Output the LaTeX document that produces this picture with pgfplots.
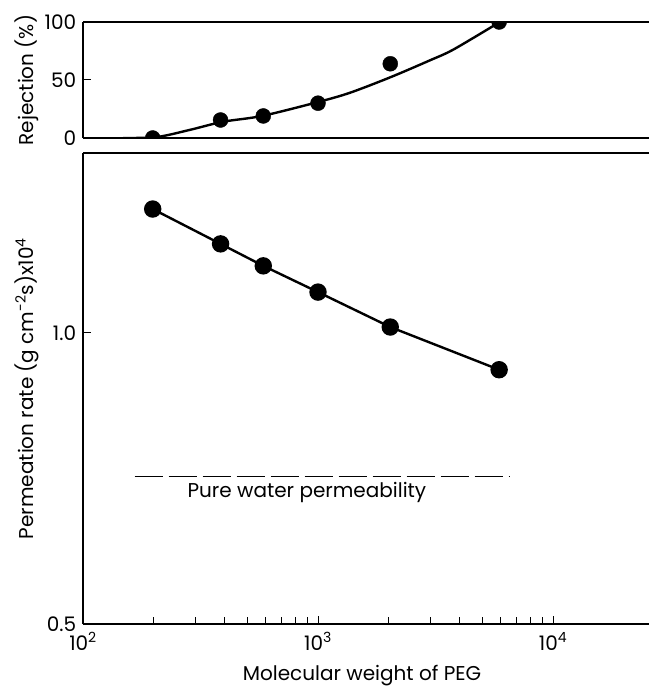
\documentclass[border=0pt]{standalone}
\usepackage{pgfplots}
\pgfplotsset{compat=1.18}
\usepackage{fontspec}
\setmainfont{Poppins}

\begin{document}
\fontsize{20bp}{24bp}\selectfont
\begin{tikzpicture}
\path[use as bounding box] (0,0) rectangle (649bp,687bp);

% rejection panel
\begin{axis}[
    scale only axis, width=566bp, height=116bp,
    at={(83bp,549bp)}, anchor=south west,
    xmode=log, xmin=100, xmax=25620,
    axis x line=box, axis y line=left,
    axis line style={-, line width=1.2bp},
    tick align=inside,
    major tick length=8bp,
    every tick/.style={black, line width=1bp},
    /pgf/number format/assume math mode=true,
    clip marker paths=true,
    ymin=0, ymax=100, ytick={0,50,100},
    xtick=\empty,
    ylabel={Rejection (\%)},
    ylabel style={at={(axis description cs:-0.0883,0.5)}, anchor=base},
]
\addplot[line width=2.4bp, smooth] coordinates {
  (148,0) (206,0.8) (285,7) (394,14) (578,19) (1000,31)
  (1368,39) (2046,52.6) (2999,67) (3750,76) (5560,96.5) (5940,100)
};
\addplot[only marks, mark=*, mark size=7.5bp] coordinates {
  (198,0) (385,15.5) (585,19) (1000,30) (2030,64) (5900,100)
};
\end{axis}

% permeation panel
\begin{axis}[
    scale only axis, width=566bp, height=471bp,
    at={(83bp,63bp)}, anchor=south west,
    xmode=log, xmin=100, xmax=25620,
    ymode=log, ymin=0.5, ymax=1.5347,
    axis x line=box, axis y line=left,
    axis line style={-, line width=1.2bp},
    tick align=inside, xtick pos=bottom,
    major tick length=8bp, minor tick length=7bp,
    every tick/.style={black, line width=1bp},
    /pgf/number format/assume math mode=true,
    ytick={0.5,1}, yticklabels={0.5,1.0},
    xtick={100,1000,10000},
    xticklabels={10\textsuperscript{2},10\textsuperscript{3},10\textsuperscript{4}},
    minor xtick={200,300,400,500,600,700,800,900,2000,3000,4000,5000,6000,7000,8000,9000},
    xticklabel style={anchor=base, yshift=-26bp},
    xlabel={Molecular weight of PEG},
    xlabel style={at={(axis description cs:0.493,-0.1210)}, anchor=base},
    ylabel={Permeation rate (g cm\textsuperscript{-2}s)x10\textsuperscript{4}},
    ylabel style={at={(axis description cs:-0.0883,0.5)}, anchor=base},
]
\addplot[line width=2.4bp, mark=*, mark size=7.5bp] coordinates {
  (198,1.343) (385,1.236) (585,1.173) (1000,1.102) (2030,1.014) (5900,0.916)
};
\addplot[line width=1.2bp, dash pattern=on 28bp off 6bp] coordinates {
  (166,0.711) (6560,0.711)
};
\node[anchor=base west, inner sep=0pt] at (axis cs:278,0.675) {Pure water permeability};
\end{axis}
\end{tikzpicture}
\end{document}
